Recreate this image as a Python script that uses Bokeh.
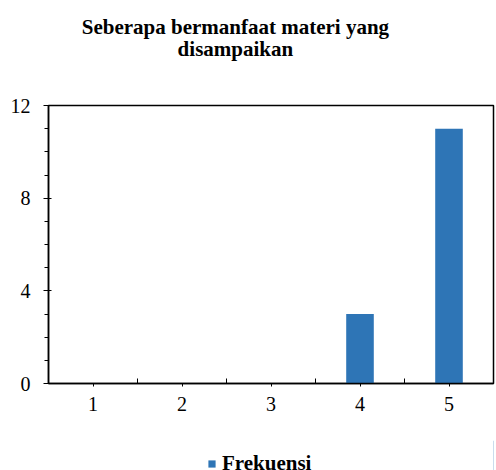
from bokeh.plotting import figure
from bokeh.layouts import column
from bokeh.models import FixedTicker, Range1d, Legend, LegendItem, Label
from bokeh.embed import file_html
from bokeh.resources import INLINE

categories = [1, 2, 3, 4, 5]
frekuensi = [0, 0, 0, 3, 11]
y_ticks = [0, 4, 8, 12]
title_lines = ["Seberapa bermanfaat materi yang", "disampaikan"]
series_name = "Frekuensi"

FONT = "Liberation Serif"
BAR_COLOR = "#2E75B6"


def strip(height, x_range, y_range):
    f = figure(width=496, height=height, output_backend="svg", toolbar_location=None,
               x_range=x_range, y_range=y_range,
               min_border_left=0, min_border_right=0, min_border_top=0, min_border_bottom=0)
    f.title = None
    f.axis.visible = False
    f.grid.visible = False
    f.outline_line_color = None
    f.background_fill_color = "white"
    f.border_fill_color = "white"
    return f


# main chart
p = figure(width=496, height=347, output_backend="svg", toolbar_location=None,
           x_range=Range1d(0.5, 5.5), y_range=Range1d(0, 12),
           min_border_left=48, min_border_right=3, min_border_top=12, min_border_bottom=57)
p.title = None
p.background_fill_color = "white"
p.border_fill_color = "white"
p.outline_line_color = "black"
p.outline_line_width = 1.5
p.xgrid.visible = False
p.ygrid.visible = False

r = p.vbar(x=categories, top=frekuensi, width=0.31, color=BAR_COLOR, line_color=None)

ya = p.yaxis[0]
ya.ticker = FixedTicker(ticks=y_ticks, minor_ticks=list(range(0, 13)))
ya.major_tick_in = 3
ya.major_tick_out = 5
ya.minor_tick_in = 0
ya.minor_tick_out = 4
ya.axis_line_width = 1.5
ya.major_label_standoff = 13
ya.major_label_text_font = FONT
ya.major_label_text_font_size = "20px"
ya.major_label_text_color = "black"

xa = p.xaxis[0]
xa.ticker = FixedTicker(ticks=categories, minor_ticks=[c + 0.5 for c in [0] + categories])
xa.major_tick_in = 0
xa.major_tick_out = 3
xa.minor_tick_in = 5
xa.minor_tick_out = 0
xa.axis_line_width = 1.5
xa.major_label_standoff = 10
xa.major_label_text_font = FONT
xa.major_label_text_font_size = "20px"
xa.major_label_text_color = "black"

# title strip (y measured in pixels from the top of the strip)
tf = strip(93, p.x_range, Range1d(93, 0))
for line, base in zip(title_lines, [26, 48]):
    tf.add_layout(Label(x=2.6, y=base, text=line, text_align="center",
                        text_baseline="alphabetic", text_font=FONT,
                        text_font_size="21px", text_font_style="bold",
                        text_color="black"))

# legend strip
lf = strip(30, Range1d(0, 1), Range1d(0, 1))
r2 = lf.vbar(x=categories[-1:], top=frekuensi[-1:], width=0.31, color=BAR_COLOR, line_color=None)
legend = Legend(items=[LegendItem(label=series_name, renderers=[r2])],
                location=(159, -6), orientation="horizontal",
                glyph_width=9, glyph_height=9, padding=0, margin=0, spacing=0,
                label_standoff=6,
                border_line_color=None, background_fill_alpha=0,
                label_text_font=FONT, label_text_font_size="21px",
                label_text_font_style="bold", label_text_color="black")
lf.add_layout(legend)

layout = column(tf, p, lf, spacing=0)
open("out.html", "w").write(file_html(layout, INLINE))
